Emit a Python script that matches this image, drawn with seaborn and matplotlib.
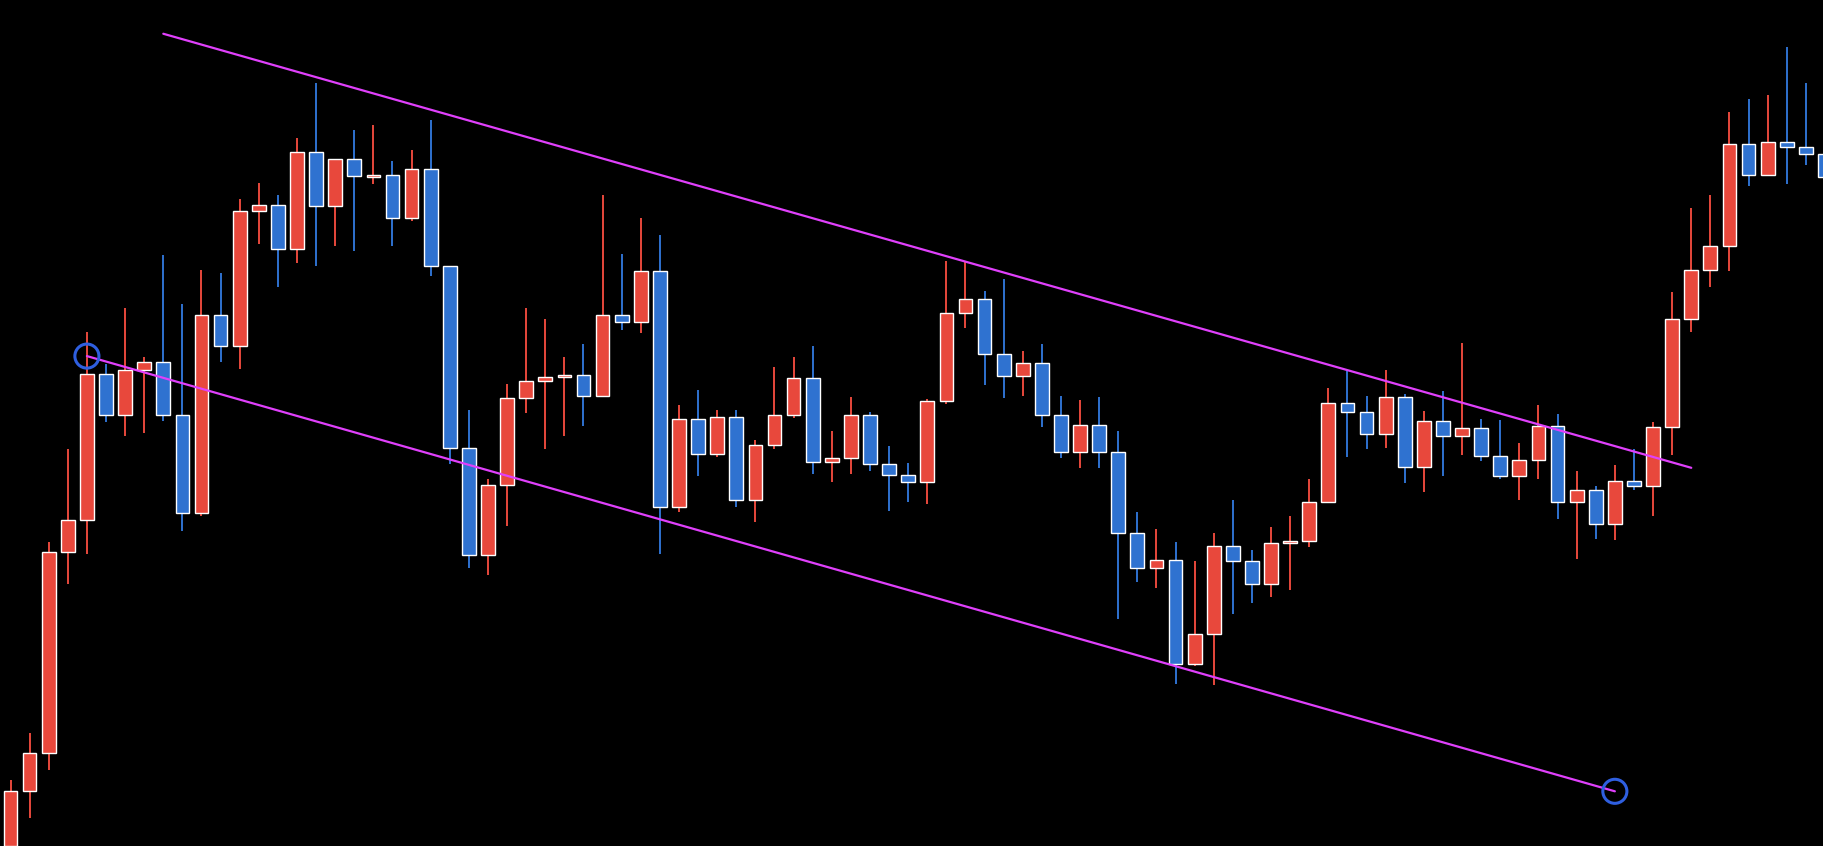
import numpy as np
import pandas as pd
import matplotlib
matplotlib.use("Agg")
import matplotlib.pyplot as plt
import seaborn as sns

# candle readings (screen levels, 0 = top of chart, 727 = bottom)
up = "RRRRRBRRBBRBRRBRBRBRBRBBBRRRRRBRBRBRBRBRRRBRRBBBRRRBBRBBRBBBRBRRBBRRRRBBRBRBRBBRRBRBRBRRRRRBRBBB"
body_top = [680, 647, 474, 447, 321, 321, 318, 311, 311, 357, 271, 271, 181, 176, 176, 131, 131, 137, 137, 150,
            150, 145, 145, 229, 385, 417, 342, 327, 324, 322, 322, 271, 271, 233, 233, 360, 360, 358, 358, 382,
            357, 325, 325, 394, 357, 357, 399, 408, 345, 269, 257, 257, 304, 312, 312, 357, 365, 365, 388, 458,
            481, 481, 545, 469, 469, 482, 467, 465, 431, 346, 346, 354, 341, 341, 362, 362, 368, 368, 392, 395,
            366, 366, 421, 421, 413, 413, 367, 274, 232, 211, 124, 124, 122, 122, 126, 132]
body_bot = [727, 680, 647, 474, 447, 357, 357, 318, 357, 441, 441, 297, 297, 181, 214, 214, 177, 177, 151, 152,
            187, 187, 229, 385, 477, 477, 417, 342, 327, 324, 340, 340, 277, 277, 436, 436, 390, 390, 430, 430,
            382, 357, 397, 397, 394, 399, 408, 414, 414, 345, 269, 304, 323, 323, 357, 388, 388, 388, 458, 488,
            488, 571, 571, 545, 482, 502, 502, 467, 465, 431, 354, 373, 373, 401, 401, 375, 375, 392, 409, 409,
            395, 431, 431, 450, 450, 418, 418, 367, 274, 232, 211, 150, 150, 126, 132, 152]
wick_hi = [670, 630, 466, 386, 285, 313, 265, 307, 219, 261, 232, 235, 171, 157, 168, 119, 71, 137, 112, 107,
           138, 129, 103, 229, 352, 412, 330, 265, 274, 307, 296, 168, 218, 187, 202, 348, 335, 352, 352, 378,
           315, 307, 297, 370, 341, 354, 383, 398, 343, 224, 224, 250, 240, 302, 296, 340, 344, 341, 370, 440,
           455, 466, 482, 458, 430, 473, 453, 443, 412, 333, 319, 340, 318, 339, 353, 336, 295, 360, 361, 381,
           348, 356, 405, 418, 400, 386, 363, 251, 179, 168, 96, 85, 82, 40, 71, 120]
wick_lo = [727, 703, 662, 502, 476, 363, 375, 372, 362, 456, 443, 311, 317, 210, 247, 226, 229, 211, 216, 158,
           211, 190, 237, 399, 488, 494, 452, 355, 386, 375, 366, 341, 284, 286, 476, 440, 409, 393, 436, 449,
           386, 359, 407, 414, 407, 405, 439, 431, 433, 347, 282, 331, 342, 340, 367, 394, 402, 402, 532, 500,
           505, 588, 572, 589, 528, 518, 513, 507, 470, 432, 393, 386, 385, 415, 423, 409, 391, 396, 412, 430,
           412, 446, 480, 463, 464, 421, 443, 391, 285, 247, 233, 160, 151, 158, 142, 160]

# channel lines (candle index, screen level)
upper_x = [8, 88]
upper_y = [29, 402]
lower_x = [4, 84]
lower_y = [306, 680]

H = 727
lvl = lambda v: H - np.asarray(v, dtype=float)
df = pd.DataFrame({
    "i": np.arange(len(body_top)),
    "top": lvl(body_top), "bot": lvl(body_bot),
    "hi": lvl(wick_hi), "lo": lvl(wick_lo),
    "up": [c == "R" for c in up],
})

sns.set_style("dark", {"axes.facecolor": "black", "figure.facecolor": "black"})
RED, BLUE, MAG = "#E8483C", "#2F72D0", "#E040FB"

fig = plt.figure(figsize=(18.24, 8.46), dpi=100)
ax = fig.add_axes([0, 0, 1, 1])
ax.set_facecolor("black")

colors = [RED if u else BLUE for u in df["up"]]
ax.vlines(df["i"], df["lo"], df["hi"], colors=colors, linewidth=1.4, zorder=2)
heights = np.maximum(df["top"] - df["bot"], 1.5)
ax.bar(df["i"], heights, bottom=df["bot"], width=0.72, color=colors, zorder=3)

sns.lineplot(x=upper_x, y=lvl(upper_y), ax=ax, color=MAG, linewidth=1.6, zorder=4)
sns.lineplot(x=lower_x, y=lvl(lower_y), ax=ax, color=MAG, linewidth=1.6, zorder=4)
ax.scatter([lower_x[0], lower_x[-1]], lvl([lower_y[0], lower_y[-1]]), s=300,
           facecolors="none", edgecolors="#2F5FE0", linewidths=2.2, zorder=5)

ax.set_xlim(-0.55, 94.95)
ax.set_ylim(0, H)
ax.set_axis_off()
fig.savefig("out.png", dpi=100, facecolor="black")
